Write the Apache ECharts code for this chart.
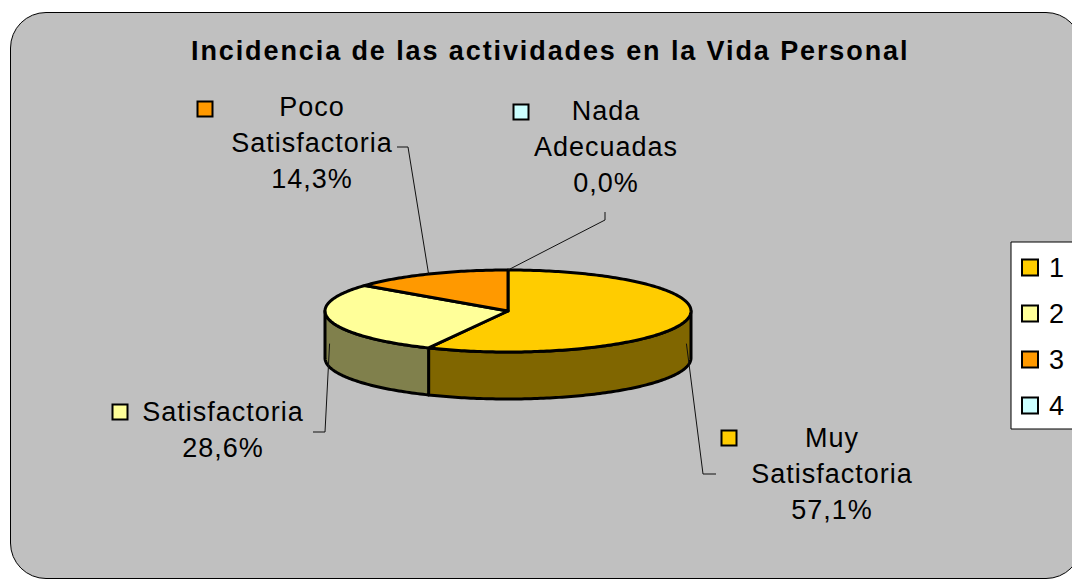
<!DOCTYPE html>
<html>
<head>
<meta charset="utf-8">
<script src="https://cdn.jsdelivr.net/npm/echarts@6/dist/echarts.min.js"></script>
<style>
  html, body { margin: 0; padding: 0; background: #fff; overflow: hidden; }
  #frame { position: absolute; left: 10px; top: 12px; width: 1070px; height: 565px;
           background: #c0c0c0; border: 1px solid #000; border-radius: 36px; }
  #chart { position: absolute; left: 0; top: 0; width: 1072px; height: 580px; }
  #chart text { letter-spacing: 1px; }
</style>
</head>
<body>
<div id="frame"></div>
<div id="chart"></div>
<script>
/* datos del grafico */
var categories = ['1', '2', '3', '4'];
var sliceNames = ['Muy\nSatisfactoria', 'Satisfactoria', 'Poco\nSatisfactoria', 'Nada\nAdecuadas'];
var counts = [4, 2, 1, 0];

var topColors = ['#ffcc00', '#ffff99', '#ff9900', '#ccffff'];
var sideColors = ['#806600', '#80804c', '#804c00', '#668080'];

/* posicion de etiquetas (centro del texto, marcador, codo y final de la guia) */
var labelCenter = [[832, 474], [223, 430], [312, 143], [606, 147]];
var markerPos = [[729, 438], [120, 412], [205, 109], [521, 112]];
var leaderEnd = [[[703, 474], [716, 474]], [[325, 432], [313, 432]],
                 [[408, 147], [397, 147]], [[605, 220], [605, 212]]];

var TITLE = 'Incidencia de las actividades en la Vida Personal';
var cx = 508, cy = 311, rx = 183, ry = 41, depth = 47;
var FONT = '"Liberation Sans", Arial, sans-serif';

var total = counts.reduce(function (a, b) { return a + b; }, 0);
var starts = [];
var acc = 0;
for (var i = 0; i < counts.length; i++) { starts.push(acc); acc += counts[i]; }

function pt(deg, dy) {
  var r = deg * Math.PI / 180;
  return [cx + rx * Math.sin(r), cy - ry * Math.cos(r) + (dy || 0)];
}
function arc(a, b, dy) {
  var pts = [];
  var n = Math.max(2, Math.ceil(Math.abs(b - a)));
  for (var k = 0; k <= n; k++) pts.push(pt(a + (b - a) * k / n, dy));
  return pts;
}

function makeRender(idx) {
  return function (params, api) {
    var v = api.value(0);
    var a = starts[idx] / total * 360;
    var b = a + v / total * 360;
    var children = [];
    // cara lateral (solo la parte delantera)
    var s = Math.max(a, 90), e = Math.min(b, 270);
    if (e > s) {
      var side = arc(s, e, 0).concat(arc(s, e, depth).reverse());
      children.push({ type: 'polygon', shape: { points: side },
        style: { fill: sideColors[idx], stroke: '#000', lineWidth: 3, lineJoin: 'round' } });
    }
    if (b > a) {
      var top = [[cx, cy]].concat(arc(a, b, 0));
      children.push({ type: 'polygon', shape: { points: top },
        style: { fill: topColors[idx], stroke: '#000', lineWidth: 3, lineJoin: 'round' } });
    }
    // linea guia
    var mid = (a + b) / 2;
    var front = Math.cos(mid * Math.PI / 180) < 0;
    var p0 = pt(mid, front ? depth / 2 : 0);
    children.push({ type: 'polyline', shape: { points: [p0, leaderEnd[idx][0], leaderEnd[idx][1]] },
      style: { stroke: '#111', lineWidth: 1, fill: null } });
    // etiqueta
    var pct = (v / total * 100).toFixed(1).replace('.', ',') + '%';
    children.push({ type: 'text', style: {
      text: sliceNames[idx] + '\n' + pct,
      x: labelCenter[idx][0], y: labelCenter[idx][1],
      align: 'center', verticalAlign: 'middle',
      textAlign: 'center', textVerticalAlign: 'middle',
      font: '27px ' + FONT, lineHeight: 36, fill: '#000' } });
    children.push({ type: 'rect', shape: { x: markerPos[idx][0] - 7.5, y: markerPos[idx][1] - 7.5, width: 15, height: 15 },
      style: { fill: topColors[idx], stroke: '#000', lineWidth: 2 } });
    return { type: 'group', children: children };
  };
}

var series = categories.map(function (c, i) {
  return {
    name: c,
    type: 'custom',
    coordinateSystem: 'none',
    silent: true,
    itemStyle: { color: topColors[i] },
    renderItem: makeRender(i),
    data: [[counts[i]]]
  };
});

var chart = echarts.init(document.getElementById('chart'), null, { renderer: 'svg' });
chart.on('finished', function () {
  var texts = document.querySelectorAll('#chart text');
  for (var t = 0; t < texts.length; t++) {
    if (texts[t].textContent === TITLE) texts[t].style.setProperty('letter-spacing', '1.9px', 'important');
  }
});
chart.setOption({
  backgroundColor: 'transparent',
  animation: false,
  title: {
    text: TITLE,
    left: 186,
    top: 32,
    textStyle: { fontFamily: FONT, fontSize: 27, fontWeight: 'bold', color: '#000' }
  },
  legend: {
    data: categories,
    orient: 'vertical',
    left: 1011,
    top: 242,
    backgroundColor: '#fff',
    borderColor: '#000',
    borderWidth: 1,
    padding: [12, 40, 10, 10],
    itemGap: 19,
    itemWidth: 16,
    itemHeight: 16,
    icon: 'rect',
    selectedMode: false,
    itemStyle: { borderColor: '#000', borderWidth: 2 },
    textStyle: { fontFamily: FONT, fontSize: 27, color: '#000', padding: [0, 0, 0, 6] }
  },
  series: series
});
</script>
</body>
</html>
